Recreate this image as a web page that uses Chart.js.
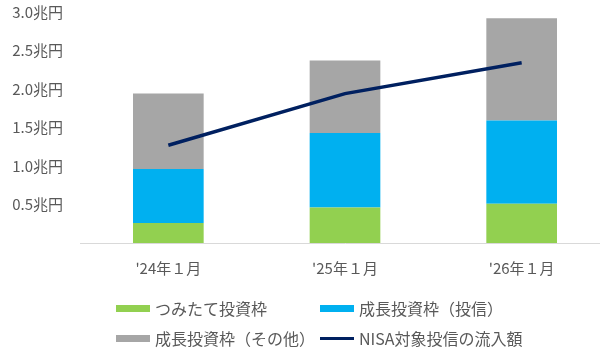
<!DOCTYPE html>
<html>
<head>
<meta charset="utf-8">
<script src="https://cdn.jsdelivr.net/npm/chart.js@4"></script>
<style>
  html, body { margin: 0; padding: 0; overflow: hidden; background: #fff; }
  body { width: 600px; height: 362px; position: relative; font-family: "Noto Sans CJK JP", sans-serif; }
  #wrap { position: absolute; left: 0; top: -14px; width: 612px; height: 304px; }
  #legend { position: absolute; left: 0; top: 0; width: 600px; height: 362px; pointer-events: none; }
  .item { position: absolute; display: flex; align-items: center; height: 20px; font-size: 16px; color: #595959; white-space: nowrap; }
  .sw { width: 34px; margin-right: 5px; }
</style>
</head>
<body>
<div id="wrap"><canvas id="chart"></canvas></div>
<div id="legend"></div>
<script>
const months = ["'24年１月", "'25年１月", "'26年１月"];
const tsumitate = [0.26, 0.46, 0.51];
const seichoFunds = [0.70, 0.97, 1.08];
const seichoOther = [0.98, 0.94, 1.33];
const nisaInflow = [1.27, 1.94, 2.34];

const ctx = document.getElementById('chart').getContext('2d');
const chart = new Chart(ctx, {
    data: {
        labels: months,
        datasets: [
            { type: 'line', label: 'NISA対象投信の流入額', data: nisaInflow, borderColor: '#002060', backgroundColor: '#002060',
              borderWidth: 3.5, pointRadius: 0, tension: 0, stack: 'inflow', order: 0 },
            { type: 'bar', label: 'つみたて投資枠', data: tsumitate, backgroundColor: '#92d050', stack: 'nisa', order: 1 },
            { type: 'bar', label: '成長投資枠（投信）', data: seichoFunds, backgroundColor: '#00b0f0', stack: 'nisa', order: 1 },
            { type: 'bar', label: '成長投資枠（その他）', data: seichoOther, backgroundColor: '#a6a6a6', stack: 'nisa', order: 1 }
        ]
    },
    options: {
        responsive: true,
        maintainAspectRatio: false,
        animation: false,
        layout: { padding: { top: 0, right: 2, left: 0, bottom: 0 } },
        datasets: { bar: { barPercentage: 0.4, categoryPercentage: 1 } },
        plugins: { legend: { display: false }, tooltip: { enabled: false } },
        scales: {
            x: {
                stacked: true,
                grid: { display: false, drawTicks: false },
                border: { display: true, color: '#d9d9d9', width: 1 },
                ticks: { color: '#595959', font: { family: '"Noto Sans CJK JP"', size: 15 }, padding: 16 },
                afterFit: s => { s.height = 47; }
            },
            y: {
                stacked: true,
                min: 0,
                max: 3.0,
                grid: { display: false, drawTicks: false },
                border: { display: false },
                ticks: {
                    stepSize: 0.5,
                    color: '#595959',
                    font: { family: '"Noto Sans CJK JP"', size: 15 },
                    padding: 17,
                    callback: v => v === 0 ? '' : v.toFixed(1) + '兆円'
                },
                afterFit: s => { s.width = 80; }
            }
        }
    }
});

// legend in the two-column layout of the original
const legendOrder = [1, 2, 3, 0];
const colX = [116, 320];
const rowY = [298, 328];
const legendDiv = document.getElementById('legend');
legendOrder.forEach((di, i) => {
    const ds = chart.data.datasets[di];
    const item = document.createElement('div');
    item.className = 'item';
    item.style.left = colX[i % 2] + 'px';
    item.style.top = rowY[Math.floor(i / 2)] + 'px';
    const sw = document.createElement('span');
    sw.className = 'sw';
    sw.style.background = ds.backgroundColor;
    sw.style.height = ds.type === 'line' ? '3px' : '7px';
    item.appendChild(sw);
    item.appendChild(document.createTextNode(ds.label));
    legendDiv.appendChild(item);
});
</script>
</body>
</html>
